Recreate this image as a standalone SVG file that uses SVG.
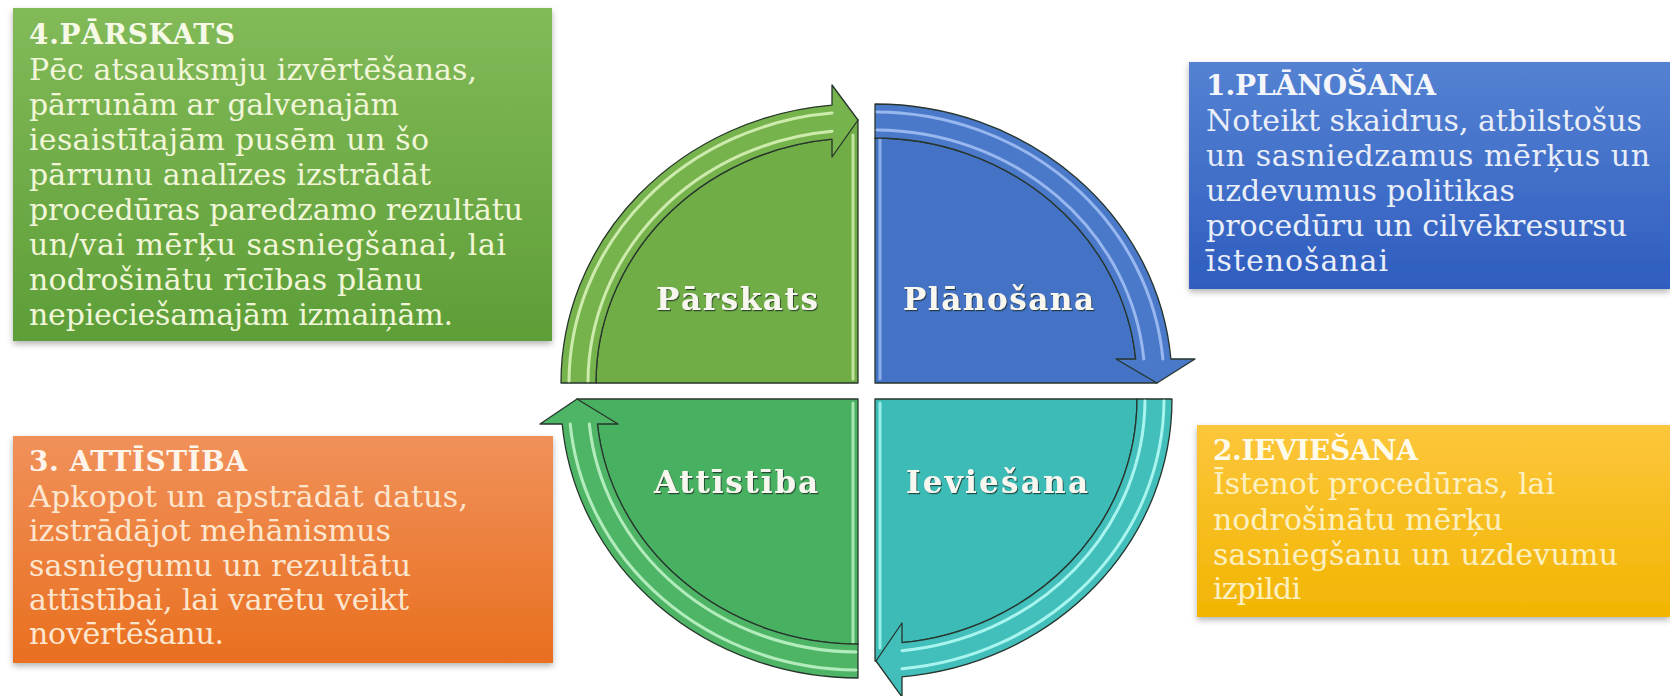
<svg xmlns="http://www.w3.org/2000/svg" width="1670" height="696" viewBox="0 0 1670 696">
<defs>
<style>
.qs{stroke:#27352c;stroke-width:1.3;stroke-linejoin:round}
.stripe{fill:none;stroke-width:3;stroke-linecap:round;opacity:.85}
.edge{stroke-width:3;stroke-linecap:round;opacity:.8}
.lbl{font-family:"DejaVu Serif","Liberation Serif",serif;font-weight:bold;font-size:31px;fill:#f7f7f0;filter:url(#ts)}
.ttl{font-family:"DejaVu Serif","Liberation Serif",serif;font-weight:bold;font-size:28px}
.body{font-family:"DejaVu Serif","Liberation Serif",serif;font-size:30px}
</style>
<filter id="ts" x="-10%" y="-30%" width="120%" height="160%">
<feDropShadow dx="1" dy="1.2" stdDeviation="0.7" flood-color="#1d2a20" flood-opacity="0.75"/>
</filter>
<filter id="sh" x="-5%" y="-5%" width="110%" height="115%">
<feDropShadow dx="0" dy="3" stdDeviation="3" flood-color="#000" flood-opacity="0.3"/>
</filter>
<linearGradient id="gGreen" x1="0" y1="0" x2="0" y2="1">
<stop offset="0" stop-color="#82ba58"/><stop offset="1" stop-color="#5d9e38"/>
</linearGradient>
<linearGradient id="gBlue" x1="0" y1="0" x2="0" y2="1">
<stop offset="0" stop-color="#5482d2"/><stop offset="1" stop-color="#2f5dbf"/>
</linearGradient>
<linearGradient id="gYellow" x1="0" y1="0" x2="0" y2="1">
<stop offset="0" stop-color="#fcc63c"/><stop offset="1" stop-color="#f2b502"/>
</linearGradient>
<linearGradient id="gOrange" x1="0" y1="0" x2="0" y2="1">
<stop offset="0" stop-color="#f0915a"/><stop offset="1" stop-color="#e96f1f"/>
</linearGradient>
</defs>
<rect width="1670" height="696" fill="#ffffff"/>

<!-- Text boxes -->
<g id="box-parskats">
<rect x="13" y="8" width="539" height="333" fill="url(#gGreen)" filter="url(#sh)"/>
<text class="ttl" x="29" y="44" fill="#f6f9e6" textLength="206">4.PĀRSKATS</text>
<g class="body" fill="#f1f6d8">
<text x="29" y="80" textLength="448">Pēc atsauksmju izvērtēšanas,</text>
<text x="29" y="115" textLength="370">pārrunām ar galvenajām</text>
<text x="29" y="150" textLength="400">iesaistītajām pusēm un šo</text>
<text x="29" y="185" textLength="402">pārrunu analīzes izstrādāt</text>
<text x="29" y="220" textLength="494">procedūras paredzamo rezultātu</text>
<text x="29" y="255" textLength="477">un/vai mērķu sasniegšanai, lai</text>
<text x="29" y="290" textLength="394">nodrošinātu rīcības plānu</text>
<text x="29" y="325" textLength="424">nepieciešamajām izmaiņām.</text>
</g>
</g>

<g id="box-planosana">
<rect x="1189" y="62" width="481" height="227" fill="url(#gBlue)" filter="url(#sh)"/>
<text class="ttl" x="1206" y="95" fill="#f4f6fc" textLength="230">1.PLĀNOŠANA</text>
<g class="body" fill="#e9eef9">
<text x="1206" y="131" textLength="436">Noteikt skaidrus, atbilstošus</text>
<text x="1206" y="166" textLength="444">un sasniedzamus mērķus un</text>
<text x="1206" y="201" textLength="309">uzdevumus politikas</text>
<text x="1206" y="236" textLength="421">procedūru un cilvēkresursu</text>
<text x="1206" y="271" textLength="182">īstenošanai</text>
</g>
</g>

<g id="box-ieviesana">
<rect x="1197" y="425" width="473" height="192" fill="url(#gYellow)" filter="url(#sh)"/>
<text class="ttl" x="1213" y="460" fill="#fffbea" textLength="205">2.IEVIEŠANA</text>
<g class="body" fill="#fdf0c0">
<text x="1213" y="494" textLength="342">Īstenot procedūras, lai</text>
<text x="1213" y="530" textLength="290">nodrošinātu mērķu</text>
<text x="1213" y="565" textLength="405">sasniegšanu un uzdevumu</text>
<text x="1213" y="599" textLength="88">izpildi</text>
</g>
</g>

<g id="box-attistiba">
<rect x="13" y="436" width="540" height="227" fill="url(#gOrange)" filter="url(#sh)"/>
<text class="ttl" x="29" y="471" fill="#fff4ea" textLength="218">3. ATTĪSTĪBA</text>
<g class="body" fill="#fde6cf">
<text x="29" y="507" textLength="439">Apkopot un apstrādāt datus,</text>
<text x="29" y="541" textLength="362">izstrādājot mehānismus</text>
<text x="29" y="576" textLength="382">sasniegumu un rezultātu</text>
<text x="29" y="610" textLength="380">attīstībai, lai varētu veikt</text>
<text x="29" y="644" textLength="195">novērtēšanu.</text>
</g>
</g>

<!-- Cycle quadrants -->
<g id="q-parskats">
<path class="qs" fill="#70ad47" d="M858,383 L596,383 A262,245 0 0 1 832,139.2 L858,120 Z"/>
<line class="edge" x1="853" y1="135" x2="853" y2="379" stroke="#d6f2b6"/>
<text class="lbl" x="656" y="310" textLength="162">Pārskats</text>
</g>
<g id="q-planosana">
<path class="qs" fill="#4472c4" d="M875,383 L875,138 A262,245 0 0 1 1135.7,359 L1157,383 Z"/>
<line class="edge" x1="880" y1="108" x2="880" y2="379" stroke="#9dbdf3"/>
<text class="lbl" x="903" y="310" textLength="191">Plānošana</text>
</g>
<g id="q-ieviesana">
<path class="qs" fill="#3dbbb7" d="M875,399 L1137,399 A262,245 0 0 1 902,642.7 L876,661 L875,661 Z"/>
<line class="edge" x1="880" y1="403" x2="880" y2="648" stroke="#b2fbf5"/>
<text class="lbl" x="906" y="493" textLength="182">Ieviešana</text>
</g>
<g id="q-attistiba">
<path class="qs" fill="#48b061" d="M858,399 L858,644 A262,245 0 0 1 597.4,424 L577,399 Z"/>
<line class="edge" x1="853" y1="403" x2="853" y2="674" stroke="#bff3c6"/>
<text class="lbl" x="654" y="493" textLength="164">Attīstība</text>
</g>

<!-- Curved arrows (cycle connectors) -->
<g id="connectors">
<g id="arrow-parskats-planosana">
<path class="qs" fill="#77b34d" d="M561,383 A297,279 0 0 1 832,105.1 L832,85 L858,120 L832,157 L832,139.2 A262,245 0 0 0 596,383 Z"/>
<path class="stripe" stroke="#dcf5bd" d="M569,381 A289,271 0 0 1 832,113.1"/>
<path class="stripe" stroke="#dcf5bd" d="M588,381 A270,253 0 0 1 832,131.2"/>
</g>
<g id="arrow-planosana-ieviesana">
<path class="qs" fill="#4a79c9" d="M875,104 A297,279 0 0 1 1170.9,359 L1195,359 L1157,383 L1116,359 L1135.7,359 A262,245 0 0 0 875,138 Z"/>
<path class="stripe" stroke="#a4c2f4" d="M877,112 A289,271 0 0 1 1162.9,359"/>
<path class="stripe" stroke="#a4c2f4" d="M877,130 A270,253 0 0 1 1143.8,359"/>
</g>
<g id="arrow-ieviesana-attistiba">
<path class="qs" fill="#42bfbb" d="M1172,399 A297,279 0 0 1 902,676.8 L902,697 L876,661 L902,623 L902,642.7 A262,245 0 0 0 1137,399 Z"/>
<path class="stripe" stroke="#bafdf8" d="M1164,401 A289,271 0 0 1 902,668.8"/>
<path class="stripe" stroke="#bafdf8" d="M1145,401 A270,253 0 0 1 902,650.7"/>
</g>
<g id="arrow-attistiba-parskats">
<path class="qs" fill="#4fb566" d="M858,678 A297,279 0 0 1 562.2,424 L540,424 L577,399 L618,424 L597.4,424 A262,245 0 0 0 858,644 Z"/>
<path class="stripe" stroke="#c4f6cb" d="M856,670 A289,271 0 0 1 570.2,424"/>
<path class="stripe" stroke="#c4f6cb" d="M856,652 A270,253 0 0 1 589.3,424"/>
</g>
</g>
</svg>
